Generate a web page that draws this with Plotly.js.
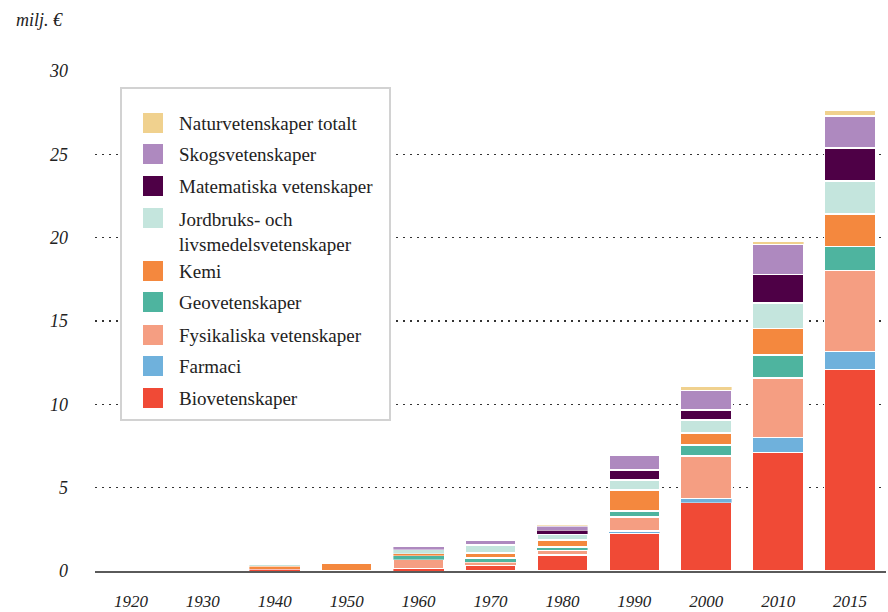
<!DOCTYPE html>
<html>
<head>
<meta charset="utf-8">
<script src="https://cdn.plot.ly/plotly-3.0.1.min.js"></script>
<style>html,body{margin:0;padding:0;background:#fff;}#chart{width:888px;height:612px;}</style>
</head>
<body>
<div id="chart"></div>
<script>
// ---- data (milj. €) ----
var years = ["1920","1930","1940","1950","1960","1970","1980","1990","2000","2010","2015"];
var biovetenskaper   = [0,0,0.12,0,0.15,0.36,0.96,2.28,4.11,7.10,12.09];
var farmaci          = [0,0,0,0,0,0,0,0.12,0.24,0.92,1.09];
var fysikaliska      = [0,0,0,0,0.54,0.18,0.30,0.84,2.55,3.57,4.86];
var geovetenskaper   = [0,0,0,0,0.24,0.24,0.18,0.36,0.66,1.38,1.44];
var kemi             = [0,0,0.18,0.45,0.12,0.30,0.42,1.26,0.72,1.59,1.94];
var jordbruk         = [0,0,0.08,0,0.24,0.48,0.36,0.60,0.78,1.52,1.98];
var matematiska      = [0,0,0,0,0,0,0.24,0.60,0.60,1.71,1.98];
var skogsvetenskaper = [0,0,0,0,0.18,0.30,0.24,0.90,1.20,1.83,1.92];
var naturtotalt      = [0,0,0,0,0,0,0.06,0,0.21,0.15,0.36];

var seriesNames = ["Biovetenskaper","Farmaci","Fysikaliska vetenskaper","Geovetenskaper","Kemi",
  "Jordbruks- och<br>livsmedelsvetenskaper","Matematiska vetenskaper","Skogsvetenskaper","Naturvetenskaper totalt"];
var seriesValues = [biovetenskaper,farmaci,fysikaliska,geovetenskaper,kemi,jordbruk,matematiska,skogsvetenskaper,naturtotalt];
var seriesColors = ["#f04a36","#6fb1dc","#f59e82","#4eb49f","#f4883e","#c4e5dd","#4e0046","#ae89bf","#f0d18e"];
var yTicks = [0,5,10,15,20,25,30];

// ---- layout geometry ----
var W = 888, H = 612, L = 95, R = 2, T = 71, B = 41;
var pw = W - L - R, ph = H - T - B;
function px(x){ return (x - L) / pw; }
function py(y){ return (H - B - y) / ph; }

var FONT = "Liberation Serif, Times New Roman, serif";

var traces = seriesValues.map(function(vals, i){
  return {
    type: "bar",
    name: seriesNames[i],
    x: years,
    y: vals.map(function(v){ return v === 0 ? null : v; }),
    marker: {
      color: seriesColors[i],
      line: {color: "#ffffff", width: vals.map(function(v){ return v < 0.3 ? 0.4 : 1.5; })}
    },
    showlegend: false,
    hoverinfo: "skip"
  };
});

// custom legend (box + swatches + labels)
var shapes = [{
  type: "rect", xref: "paper", yref: "paper", layer: "above",
  x0: px(121), x1: px(390), y0: py(420), y1: py(88),
  line: {color: "#d2d2d2", width: 2}, fillcolor: "#ffffff"
}];
var annotations = [{
  xref: "paper", yref: "paper", x: px(14), y: py(20), xanchor: "left", yanchor: "middle",
  text: "milj. €", showarrow: false, font: {family: FONT, size: 18, color: "#222", style: "italic"}
}];
var legendCenters = [398, 366, 335, 302, 271, 218, 186, 154, 123];
for (var i = 0; i < seriesNames.length; i++) {
  var cy = legendCenters[i];
  shapes.push({
    type: "rect", xref: "paper", yref: "paper", layer: "above",
    x0: px(143), x1: px(163), y0: py(cy + 10), y1: py(cy - 10),
    line: {width: 0}, fillcolor: seriesColors[i]
  });
  var multi = seriesNames[i].indexOf("<br>") >= 0;
  annotations.push({
    xref: "paper", yref: "paper", x: px(177), y: py(multi ? cy - 11 : cy),
    xanchor: "left", yanchor: multi ? "top" : "middle", align: "left",
    text: seriesNames[i], showarrow: false,
    font: {family: FONT, size: 19, color: "#222"}
  });
}

var layout = {
  width: W, height: H,
  margin: {l: L, r: R, t: T, b: B, autoexpand: false},
  paper_bgcolor: "#ffffff", plot_bgcolor: "#ffffff",
  barmode: "stack", bargap: 0.29,
  showlegend: false,
  font: {family: FONT, color: "#222"},
  xaxis: {
    type: "category", categoryorder: "array", categoryarray: years,
    tickvals: years, ticktext: years,
    showgrid: false, zeroline: false,
    showline: true, linecolor: "#5a5a5a", linewidth: 2,
    ticks: "", ticklabelstandoff: 14, automargin: false,
    tickfont: {family: FONT, size: 17, color: "#222", style: "italic"},
    fixedrange: true
  },
  yaxis: {
    range: [0, 30], tickvals: yTicks, ticktext: yTicks.map(String),
    showgrid: true, gridcolor: "#333333", gridwidth: 1.5, griddash: "1.5px,5.5px",
    zeroline: false, showline: false, ticks: "", ticklabelstandoff: 26, automargin: false,
    tickfont: {family: FONT, size: 18, color: "#222", style: "italic"},
    fixedrange: true
  },
  shapes: shapes,
  annotations: annotations
};

Plotly.newPlot("chart", traces, layout, {displayModeBar: false, staticPlot: true});
</script>
</body>
</html>
